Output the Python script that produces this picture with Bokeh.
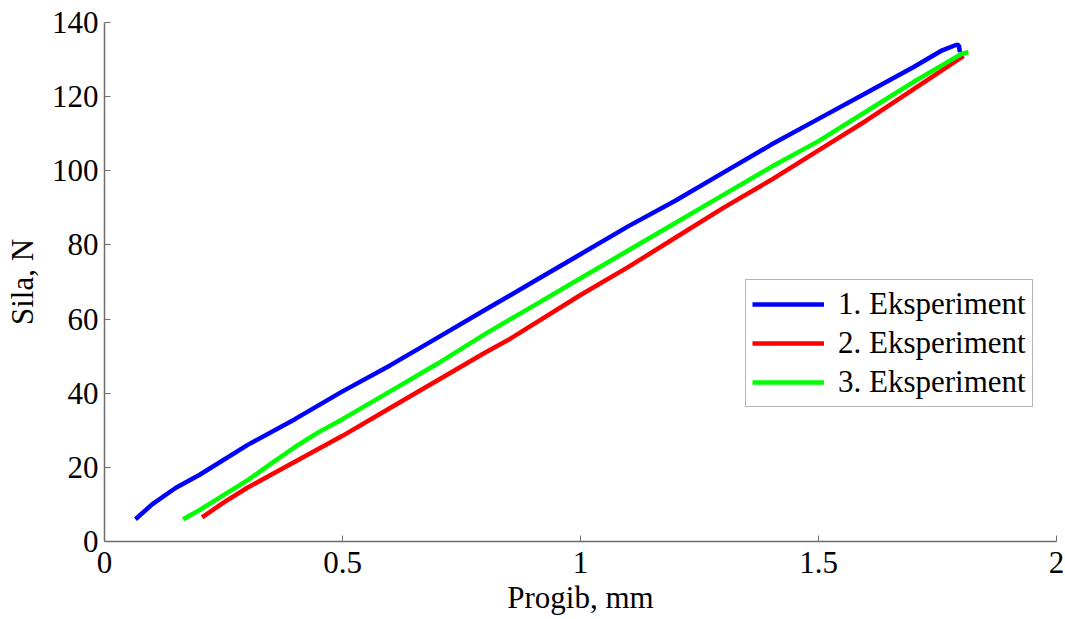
from bokeh.plotting import figure
from bokeh.models import Range1d, FixedTicker, Legend, LegendItem
from bokeh.embed import file_html
from bokeh.resources import INLINE

# Data
blue_x = [0.065, 0.1, 0.15, 0.2, 0.3, 0.4, 0.5, 0.6, 0.7, 0.8, 0.9, 1.0, 1.1, 1.2, 1.3, 1.4, 1.5, 1.6, 1.7, 1.76, 1.79, 1.795, 1.797]
blue_y = [6.0, 10.0, 14.5, 18.0, 26.0, 33.0, 40.5, 47.5, 55.0, 62.5, 70.0, 77.5, 85.0, 92.0, 99.5, 107.0, 114.0, 121.0, 128.0, 132.5, 134.0, 133.8, 132.0]
red_x = [0.205, 0.25, 0.3, 0.35, 0.4, 0.45, 0.5, 0.6, 0.7, 0.8, 0.85, 0.9, 1.0, 1.1, 1.2, 1.3, 1.4, 1.5, 1.6, 1.7, 1.805]
red_y = [6.5, 10.5, 14.5, 18.0, 21.5, 25.0, 28.5, 36.0, 43.5, 51.0, 54.5, 58.5, 66.5, 74.0, 82.0, 90.0, 97.5, 105.5, 113.5, 122.0, 131.0]
green_x = [0.165, 0.2, 0.25, 0.3, 0.35, 0.4, 0.45, 0.5, 0.6, 0.7, 0.8, 0.9, 1.0, 1.1, 1.2, 1.3, 1.4, 1.5, 1.6, 1.7, 1.76, 1.8, 1.815]
green_y = [6.0, 8.5, 12.5, 16.5, 21.0, 25.5, 29.5, 33.0, 40.5, 48.0, 56.0, 63.5, 71.0, 78.5, 86.0, 93.5, 101.0, 108.0, 116.0, 124.0, 128.5, 131.5, 132.0]

series_names = ["1. Eksperiment", "2. Eksperiment", "3. Eksperiment"]
x_ticks = [0, 0.5, 1, 1.5, 2]
x_tick_labels = ["0", "0.5", "1", "1.5", "2"]
y_ticks = [0, 20, 40, 60, 80, 100, 120, 140]
y_tick_labels = ["0", "20", "40", "60", "80", "100", "120", "140"]

FONT = "Liberation Serif"
FS = "31px"

p = figure(width=1065, height=619, output_backend="svg", toolbar_location=None,
           x_range=Range1d(0, 2), y_range=Range1d(0, 140),
           min_border_left=104, min_border_right=9, min_border_top=22, min_border_bottom=78)
p.outline_line_color = None
p.xgrid.visible = False
p.ygrid.visible = False
p.background_fill_color = "white"
p.border_fill_color = "white"

for ax in (p.xaxis[0], p.yaxis[0]):
    ax.axis_line_color = "#6e6e6e"
    ax.axis_line_width = 1.5
    ax.major_tick_line_color = "#6e6e6e"
    ax.major_tick_in = 6
    ax.major_tick_out = 0
    ax.minor_tick_line_color = None
    ax.major_label_text_font = FONT
    ax.major_label_text_font_size = FS
    ax.major_label_text_color = "black"
    ax.major_label_text_line_height = 1.0
    ax.axis_label_text_font = FONT
    ax.axis_label_text_font_size = FS
    ax.axis_label_text_font_style = "normal"
    ax.axis_label_text_color = "black"
    ax.axis_label_text_line_height = 1.0

p.xaxis[0].ticker = FixedTicker(ticks=x_ticks)
p.xaxis[0].major_label_overrides = {t: l for t, l in zip(x_ticks, x_tick_labels)}
p.yaxis[0].ticker = FixedTicker(ticks=y_ticks)
p.yaxis[0].major_label_overrides = {t: l for t, l in zip(y_ticks, y_tick_labels)}
p.xaxis[0].axis_label = "Progib, mm"
p.yaxis[0].axis_label = "Sila, N"
p.xaxis[0].major_label_standoff = 10
p.yaxis[0].major_label_standoff = 6
p.xaxis[0].axis_label_standoff = 4
p.yaxis[0].axis_label_standoff = 9

r1 = p.line(blue_x, blue_y, line_color="#0000ff", line_width=4.5)
r2 = p.line(red_x, red_y, line_color="#ff0000", line_width=4.5)
r3 = p.line(green_x, green_y, line_color="#00ff00", line_width=4.5)

legend = Legend(items=[LegendItem(label=series_names[0], renderers=[r1]),
                       LegendItem(label=series_names[1], renderers=[r2]),
                       LegendItem(label=series_names[2], renderers=[r3])],
                location=(641, 134))
legend.label_text_font = FONT
legend.label_text_font_size = FS
legend.label_text_color = "black"
legend.label_text_line_height = 1.0
legend.glyph_width = 72
legend.glyph_height = 30
legend.label_height = 30
legend.label_standoff = 14
legend.spacing = 3
legend.padding = 6
legend.margin = 0
legend.border_line_color = "#6e6e6e"
legend.border_line_width = 1.5
legend.background_fill_color = "white"
p.add_layout(legend, "center")

open("out.html", "w").write(file_html(p, INLINE))
